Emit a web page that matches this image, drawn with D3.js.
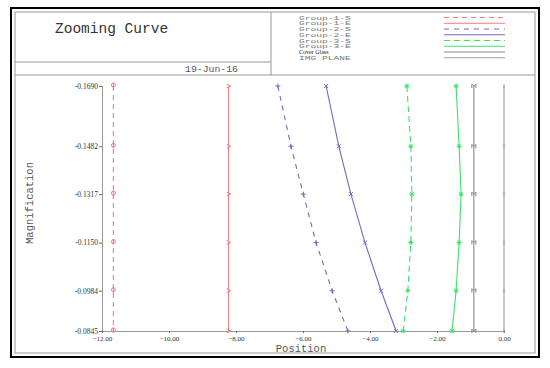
<!DOCTYPE html>
<html><head><meta charset="utf-8">
<script src="https://cdn.jsdelivr.net/npm/d3@7"></script>
<style>html,body{margin:0;padding:0;background:#fff;}svg{display:block;}</style>
</head><body>
<svg id="c" width="550" height="368"></svg>
<script>
const magnifications = [-0.1690, -0.1482, -0.1317, -0.1150, -0.0984, -0.0845];
const magTickLabels = ["-0.1690", "-0.1482", "-0.1317", "-0.1150", "-0.0984", "-0.0845"];
const posTicks = [-12, -10, -8, -6, -4, -2, 0];
const seriesNames = ["Group-1-S", "Group-1-E", "Group-2-S", "Group-2-E", "Group-3-S", "Group-3-E", "Cover Glass", "IMG PLANE"];
const group1S = [-11.66, -11.66, -11.66, -11.66, -11.66, -11.66];
const group1E = [-8.22, -8.22, -8.22, -8.22, -8.22, -8.22];
const group2S = [-6.75, -6.36, -5.99, -5.61, -5.13, -4.66];
const group2E = [-5.31, -4.93, -4.57, -4.15, -3.67, -3.22];
const group3S = [-2.90, -2.78, -2.75, -2.78, -2.87, -3.01];
const group3E = [-1.43, -1.34, -1.28, -1.34, -1.43, -1.55];
const coverGlass = [-0.90, -0.90, -0.90, -0.90, -0.90, -0.90];
const imgPlane = [0, 0, 0, 0, 0, 0];

const styles = [
  {color:"#ee7f7f", dash:"5,4", marker:"phi"},
  {color:"#ee7f7f", dash:null, marker:"gt"},
  {color:"#6b6bc0", dash:"5,5", marker:"plus"},
  {color:"#6b6bc0", dash:null, marker:"x"},
  {color:"#3fe068", dash:"6,4", marker:"star"},
  {color:"#3fe068", dash:null, marker:"star"},
  {color:"#8a8a8a", dash:null, marker:"m"},
  {color:"#9a9aa6", dash:null, marker:"bar"}
];
const seriesValues = [group1S, group1E, group2S, group2E, group3S, group3E, coverGlass, imgPlane];

const svg = d3.select("#c");
const x = d3.scaleLinear().domain([-12, 0]).range([102, 504]);
const y = d3.scaleLinear().domain([-0.1690, -0.0845]).range([86, 331]);

// frames
svg.append("rect").attr("x",11).attr("y",8).attr("width",528).attr("height",349)
  .attr("fill","none").attr("stroke","#000").attr("stroke-width",2);
svg.append("rect").attr("x",15).attr("y",12).attr("width",520).attr("height",341)
  .attr("fill","none").attr("stroke","#999").attr("stroke-width",1);
svg.append("line").attr("x1",271).attr("x2",271).attr("y1",12).attr("y2",75).attr("stroke","#999");
svg.append("line").attr("x1",15).attr("x2",271).attr("y1",62).attr("y2",62).attr("stroke","#999");
svg.append("line").attr("x1",15).attr("x2",535).attr("y1",75).attr("y2",75).attr("stroke","#999");

svg.append("text").attr("x",55).attr("y",33).text("Zooming Curve")
  .attr("font-family","Liberation Mono").attr("font-size",14.5).attr("fill","#333");
svg.append("text").attr("x",185).attr("y",72).text("19-Jun-16")
  .attr("font-family","Liberation Mono").attr("font-size",9.8).attr("fill","#555");

// legend
seriesNames.forEach((n,i)=>{
  const yy = 17.5 + i*5.75;
  const isSerif = n === "Cover Glass";
  svg.append("text").attr("transform",`translate(299,${yy+2}) scale(${isSerif?1:1.55},1)`).text(n)
    .attr("font-family", isSerif ? "Liberation Serif" : "Liberation Mono")
    .attr("font-size", isSerif ? 6 : 6.2).attr("fill", isSerif ? "#111" : "#777");
  svg.append("line").attr("x1",444).attr("x2",505).attr("y1",yy).attr("y2",yy)
    .attr("stroke",styles[i].color).attr("stroke-width",1)
    .attr("stroke-dasharray",styles[i].dash);
});

// axes
const yAxis = d3.axisLeft(y).tickValues(magnifications).tickFormat((d,i)=>magTickLabels[i]).tickSize(3).tickPadding(1);
const gy = svg.append("g").attr("transform","translate(102,0)").call(yAxis);
gy.select(".domain").attr("stroke","#999");
gy.selectAll(".tick line").attr("stroke","#666");
gy.selectAll("text").attr("font-family","Liberation Serif").attr("font-size",7.5).attr("fill","#333");

const xAxis = d3.axisBottom(x).tickValues(posTicks).tickFormat(d3.format(".2f")).tickSize(2).tickPadding(3);
const gx = svg.append("g").attr("transform","translate(0,331)").call(xAxis);
gx.select(".domain").attr("stroke","#999");
gx.selectAll(".tick line").attr("stroke","#666");
gx.selectAll("text").attr("font-family","Liberation Serif").attr("font-size",7).attr("fill","#333");

svg.append("text").attr("x",301).attr("y",352).attr("text-anchor","middle").text("Position")
  .attr("font-family","Liberation Mono").attr("font-size",10.5).attr("fill","#555");
svg.append("text").attr("transform","translate(33,203) rotate(-90)").attr("text-anchor","middle")
  .text("Magnification").attr("font-family","Liberation Mono").attr("font-size",10.5).attr("fill","#555");

// series
const line = d3.line().x(d=>x(d[0])).y(d=>y(d[1]));
const markerPath = {
  phi: "M-2,-1a2,2 0 1,0 4,0a2,2 0 1,0 -4,0M0,-3.5V2",
  gt: "M-2,-2L2,0L-2,2",
  plus: "M-2.5,0H2.5M0,-2.5V2.5",
  x: "M-2,-2L2,2M-2,2L2,-2",
  star: "M-2.5,0H2.5M0,-2.5V2.5M-1.8,-1.8L1.8,1.8M-1.8,1.8L1.8,-1.8",
  m: "M-2,2V-2L0,0L2,-2V2",
  bar: "M0,-2V2"
};
seriesValues.forEach((vals,i)=>{
  const pts = vals.map((v,j)=>[v, magnifications[j]]);
  const st = styles[i];
  svg.append("path").attr("d",line(pts)).attr("fill","none").attr("stroke",st.color)
    .attr("stroke-width",1.1).attr("stroke-dasharray",st.dash);
  svg.append("g").selectAll("path").data(pts).join("path")
    .attr("transform",d=>`translate(${x(d[0])},${y(d[1])})`)
    .attr("d",markerPath[st.marker]).attr("fill","none").attr("stroke",st.color).attr("stroke-width",1);
});
</script>
</body></html>
